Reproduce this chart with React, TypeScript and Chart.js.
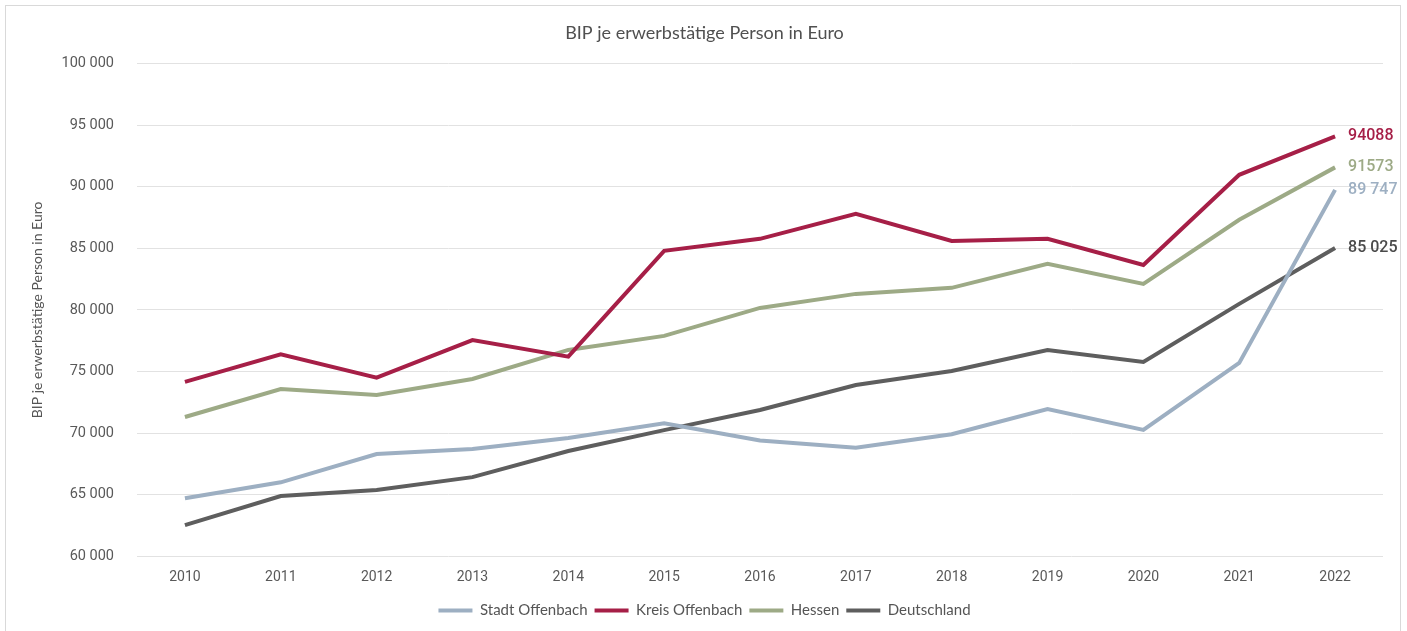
import React, { useEffect, useRef } from "react";
import { Chart, registerables } from "chart.js";

Chart.register(...registerables);

const years = ["2010", "2011", "2012", "2013", "2014", "2015", "2016", "2017", "2018", "2019", "2020", "2021", "2022"];
const stadtOffenbach = [64700, 66000, 68300, 68700, 69600, 70800, 69400, 68800, 69900, 71950, 70250, 75700, 89747];
const kreisOffenbach = [74150, 76400, 74500, 77550, 76200, 84800, 85770, 87800, 85600, 85770, 83650, 90970, 94088];
const hessen = [71300, 73580, 73090, 74390, 76750, 77890, 80160, 81300, 81790, 83740, 82110, 87320, 91573];
const deutschland = [62520, 64880, 65370, 66420, 68540, 70240, 71870, 73900, 75040, 76750, 75770, 80490, 85025];
const seriesNames = ["Stadt Offenbach", "Kreis Offenbach", "Hessen", "Deutschland"];
const seriesColors = ["#9DAFC2", "#A61F47", "#9DAA86", "#5E5E5E"];
const endLabels = ["89 747", "94088", "91573", "85 025"];
const labelColors = ["#9DAFC2", "#A61F47", "#9DAA86", "#4A4A4A"];

const fmt = (v: number) => {
  const s = Math.round(v).toString();
  return s.replace(/\B(?=(\d{3})+(?!\d))/g, " ");
};

const endLabelPlugin = {
  id: "endLabels",
  afterDatasetsDraw(chart: any) {
    const ctx = chart.ctx;
    ctx.save();
    chart.data.datasets.forEach((ds: any, i: number) => {
      const meta = chart.getDatasetMeta(i);
      const pt = meta.data[meta.data.length - 1];
      if (!pt) return;
      ctx.font = "500 16px Roboto";
      ctx.fillStyle = labelColors[i];
      ctx.textAlign = "left";
      ctx.textBaseline = "middle";
      ctx.fillText(endLabels[i], pt.x + 13, pt.y);
    });
    ctx.restore();
  },
};

export default function App() {
  const ref = useRef<HTMLCanvasElement>(null);
  useEffect(() => {
    document.body.style.margin = "0";
    const all = [stadtOffenbach, kreisOffenbach, hessen, deutschland];
    const chart = new Chart(ref.current!, {
      type: "line",
      data: {
        labels: years,
        datasets: all.map((d, i) => ({
          label: seriesNames[i],
          data: d,
          borderColor: seriesColors[i],
          backgroundColor: seriesColors[i],
          borderWidth: 4,
          pointRadius: 0,
          tension: 0,
          fill: false,
        })),
      },
      options: {
        animation: false,
        responsive: true,
        maintainAspectRatio: false,
        layout: { padding: { left: 20, right: 17, top: 0, bottom: 6 } },
        plugins: {
          title: {
            display: true,
            text: "BIP je erwerbstätige Person in Euro",
            color: "#505050",
            font: { family: "Lato", size: 18, weight: "normal" },
            padding: { top: 16, bottom: 20 },
          },
          legend: {
            position: "bottom",
            labels: {
              usePointStyle: true,
              pointStyle: "line",
              pointStyleWidth: 34,
              color: "#555555",
              font: { family: "Lato", size: 15 },
              padding: 7,
            },
          },
          tooltip: { enabled: false },
        },
        scales: {
          x: {
            offset: true,
            afterFit: (scale: any) => {
              scale.height = scale.height - 3;
            },
            grid: { display: false, drawTicks: false },
            border: { display: false },
            ticks: { color: "#595959", font: { family: "Roboto", size: 14 }, padding: 13 },
          },
          y: {
            min: 60000,
            max: 100000,
            afterFit: (scale: any) => {
              scale.width = 111;
            },
            grid: { color: "#E2E2E2", drawTicks: false, lineWidth: 1 },
            border: { display: false },
            ticks: {
              stepSize: 5000,
              color: "#595959",
              font: { family: "Roboto", size: 14.5 },
              padding: 23,
              callback: (v: any) => fmt(Number(v)),
            },
            title: {
              display: true,
              text: "BIP je erwerbstätige Person in Euro",
              color: "#555555",
              font: { family: "Lato", size: 14 },
              padding: { top: 3, bottom: 4 },
            },
          },
        },
      },
      plugins: [endLabelPlugin],
    });
    return () => chart.destroy();
  }, []);
  return (
    <div
      style={{
        position: "absolute",
        left: 5,
        top: 5,
        width: 1396,
        height: 630,
        border: "1px solid #D9D9D9",
        boxSizing: "border-box",
        background: "#fff",
      }}
    >
      <canvas ref={ref} />
    </div>
  );
}
